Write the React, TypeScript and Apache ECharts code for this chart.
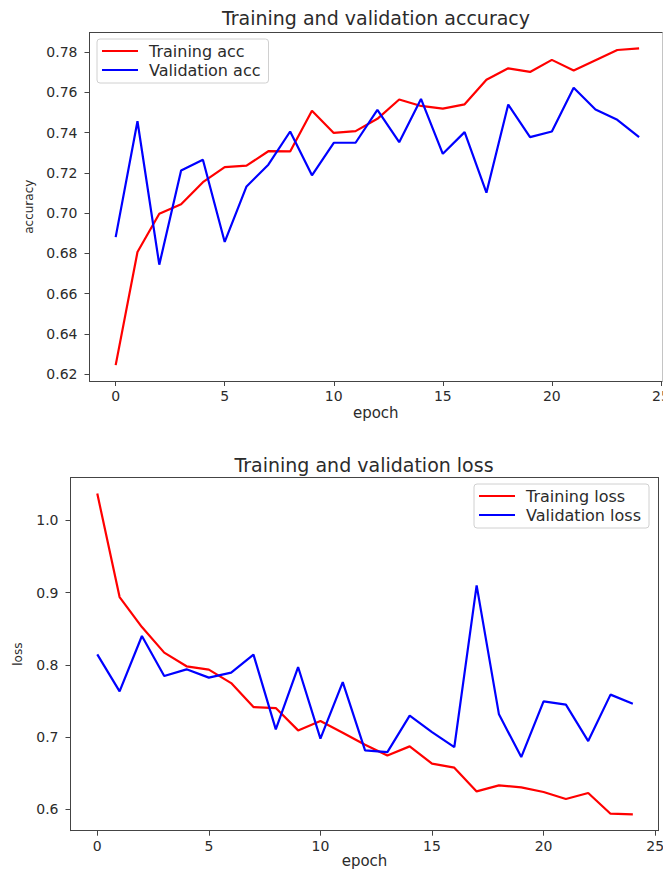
import React, { useEffect, useRef } from "react";
import * as echarts from "echarts";

const epochs = [0, 1, 2, 3, 4, 5, 6, 7, 8, 9, 10, 11, 12, 13, 14, 15, 16, 17, 18, 19, 20, 21, 22, 23, 24];
const trainingAcc = [0.6245, 0.6807, 0.6997, 0.7044, 0.7154, 0.7229, 0.7236, 0.7308, 0.7307, 0.7509, 0.7399, 0.7408, 0.7469, 0.7565, 0.7533, 0.752, 0.7541, 0.7663, 0.772, 0.7702, 0.7762, 0.7709, 0.776, 0.7811, 0.7819];
const validationAcc = [0.6881, 0.7457, 0.6744, 0.7212, 0.7266, 0.6857, 0.7133, 0.7241, 0.7406, 0.7188, 0.735, 0.735, 0.7513, 0.7353, 0.7568, 0.7295, 0.7403, 0.7102, 0.754, 0.7378, 0.7406, 0.7623, 0.7515, 0.7464, 0.7378];
const trainingLoss = [1.037, 0.8938, 0.8523, 0.8169, 0.798, 0.7934, 0.7748, 0.7416, 0.7402, 0.7093, 0.7222, 0.7061, 0.6895, 0.6747, 0.6872, 0.6633, 0.6577, 0.6249, 0.6332, 0.6304, 0.624, 0.6143, 0.6226, 0.594, 0.593];
const validationLoss = [0.8145, 0.7633, 0.8399, 0.7845, 0.7938, 0.7823, 0.7892, 0.8141, 0.7107, 0.797, 0.6979, 0.7762, 0.6817, 0.6793, 0.7297, 0.707, 0.6862, 0.91, 0.7315, 0.6724, 0.7495, 0.7449, 0.6945, 0.7588, 0.7463];

const epochTicks = [0, 5, 10, 15, 20, 25];
const accTicks = [0.62, 0.64, 0.66, 0.68, 0.7, 0.72, 0.74, 0.76, 0.78];
const lossTicks = [0.6, 0.7, 0.8, 0.9, 1.0];

const accTitle = "Training and validation accuracy";
const lossTitle = "Training and validation loss";
const accNames = ["Training acc", "Validation acc"];
const lossNames = ["Training loss", "Validation loss"];

const FONT = "DejaVu Sans";
const TEXT = "#2b2b2b";
const SPINE = "#444";

function pairs(values: number[]) {
  return epochs.map((e, i) => [e, values[i]]);
}

export default function App() {
  const ref = useRef<HTMLDivElement>(null);

  useEffect(() => {
    if (!ref.current) return;
    const chart = echarts.init(ref.current, undefined, { renderer: "svg" });

    const xBottom = (gridIndex: number, min: number, max: number, gap: number) => ({
      type: "value",
      gridIndex,
      position: "bottom",
      min,
      max,
      name: "epoch",
      nameLocation: "middle",
      nameGap: gap,
      nameTextStyle: { fontFamily: FONT, fontSize: 15, color: TEXT },
      axisLine: { show: true, onZero: false, lineStyle: { color: SPINE, width: 1 } },
      axisTick: { show: true, length: 5, customValues: epochTicks, lineStyle: { color: SPINE } },
      axisLabel: {
        customValues: epochTicks,
        margin: 8,
        fontFamily: FONT,
        fontSize: 14,
        color: TEXT,
        formatter: (v: number) => String(v),
      },
      splitLine: { show: false },
    });
    const xTop = (gridIndex: number, min: number, max: number) => ({
      type: "value",
      gridIndex,
      position: "top",
      min,
      max,
      axisLine: { show: true, onZero: false, lineStyle: { color: SPINE, width: 1 } },
      axisTick: { show: false },
      axisLabel: { show: false },
      splitLine: { show: false },
    });
    const yLeft = (
      gridIndex: number,
      min: number,
      max: number,
      ticks: number[],
      digits: number,
      name: string,
      gap: number
    ) => ({
      type: "value",
      gridIndex,
      position: "left",
      min,
      max,
      name,
      nameLocation: "middle",
      nameGap: gap,
      nameRotate: 90,
      nameTextStyle: { fontFamily: FONT, fontSize: 12, color: TEXT },
      axisLine: { show: true, onZero: false, lineStyle: { color: SPINE, width: 1 } },
      axisTick: { show: true, length: 5, customValues: ticks, lineStyle: { color: SPINE } },
      axisLabel: {
        customValues: ticks,
        margin: 12,
        fontFamily: FONT,
        fontSize: 14,
        color: TEXT,
        formatter: (v: number) => v.toFixed(digits),
      },
      splitLine: { show: false },
    });
    const yRight = (gridIndex: number, min: number, max: number, color: string) => ({
      type: "value",
      gridIndex,
      position: "right",
      min,
      max,
      axisLine: { show: true, onZero: false, lineStyle: { color, width: 1 } },
      axisTick: { show: false },
      axisLabel: { show: false },
      splitLine: { show: false },
    });

    const legend = (names: string[], left: number, top: number) => ({
      data: names,
      orient: "vertical",
      left,
      top,
      icon: "rect",
      itemWidth: 36,
      itemHeight: 2,
      itemGap: 3,
      padding: [4, 8, 5, 5],
      backgroundColor: "rgba(255,255,255,0.8)",
      borderColor: "#d0d0d0",
      borderWidth: 1,
      borderRadius: 3,
      textStyle: {
        fontFamily: FONT,
        fontSize: 16,
        lineHeight: 16,
        color: TEXT,
        padding: [0, 0, 0, 6],
      },
    });

    const line = (name: string, values: number[], color: string, axis: number) => ({
      type: "line",
      name,
      data: pairs(values),
      xAxisIndex: axis,
      yAxisIndex: axis,
      showSymbol: false,
      symbol: "none",
      lineStyle: { color, width: 2.2 },
      itemStyle: { color },
      z: 3,
    });

    chart.setOption({
      animation: false,
      backgroundColor: "#ffffff",
      textStyle: { fontFamily: FONT },
      title: [
        {
          text: accTitle,
          left: 376,
          top: 8,
          textAlign: "center",
          padding: 0,
          textStyle: { fontFamily: FONT, fontSize: 19, fontWeight: "normal", color: TEXT },
        },
        {
          text: lossTitle,
          left: 364,
          top: 455,
          textAlign: "center",
          padding: 0,
          textStyle: { fontFamily: FONT, fontSize: 19, fontWeight: "normal", color: TEXT },
        },
      ],
      legend: [legend(accNames, 97, 39), legend(lossNames, 474, 484)],
      grid: [
        { left: 89.5, top: 32.5, width: 572.5, height: 348.5, containLabel: false, outerBoundsMode: "none" },
        { left: 70.5, top: 477.7, width: 588, height: 353, containLabel: false, outerBoundsMode: "none" },
      ],
      xAxis: [
        xBottom(0, -1.2, 25.05, 24),
        xTop(0, -1.2, 25.05),
        xBottom(1, -1.2, 25.15, 23),
        xTop(1, -1.2, 25.15),
      ],
      yAxis: [
        yLeft(0, 0.6166, 0.7898, accTicks, 2, "accuracy", 55),
        yRight(0, 0.6166, 0.7898, "#c4c4c4"),
        yLeft(1, 0.5705, 1.059, lossTicks, 1, "loss", 47),
        yRight(1, 0.5705, 1.059, SPINE),
      ],
      series: [
        line(accNames[0], trainingAcc, "#ff0000", 0),
        line(accNames[1], validationAcc, "#0000ff", 0),
        line(lossNames[0], trainingLoss, "#ff0000", 2),
        line(lossNames[1], validationLoss, "#0000ff", 2),
      ],
    });

    return () => chart.dispose();
  }, []);

  return (
    <div
      ref={ref}
      style={{ position: "absolute", left: 0, top: 0, width: 663, height: 872, background: "#fff" }}
    />
  );
}
